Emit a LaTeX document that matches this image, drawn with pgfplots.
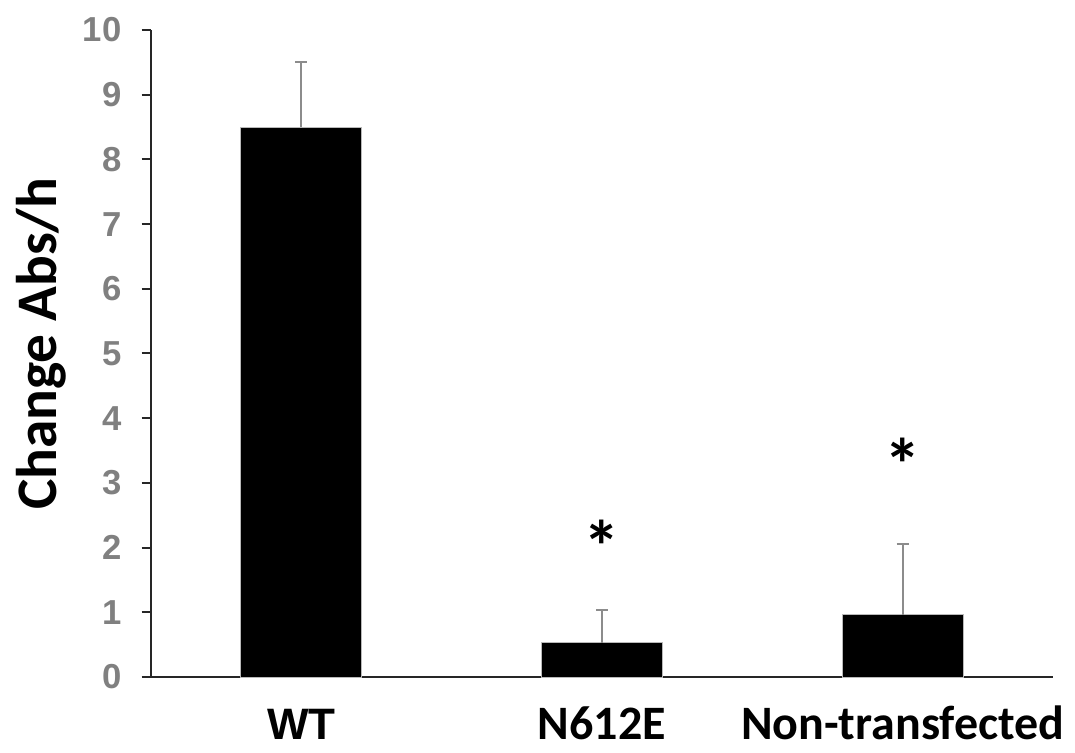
\documentclass[border=0pt]{standalone}
\usepackage{fontspec}
\setmainfont{Liberation Sans}
\newfontfamily\calibri{Carlito}
\usepackage{pgfplots}
\usetikzlibrary{calc}
\pgfplotsset{compat=1.18}
\definecolor{tickgray}{HTML}{808080}
\definecolor{errgray}{HTML}{8C8C8C}
\definecolor{axisdark}{HTML}{262626}
\begin{document}
\begin{tikzpicture}
\begin{axis}[
  scale only axis,
  width=676.5pt, height=485.25pt,
  xmin=-0.5, xmax=2.5, ymin=0, ymax=10,
  axis lines*=left,
  axis line style={line width=1.5pt, color=axisdark},
  ytick={0,1,...,10},
  xtick={0,1,2},
  xticklabels={{\fontsize{33}{33}\selectfont\bfseries WT},{\fontsize{36}{36}\selectfont\calibri\bfseries N612E},{\fontsize{36}{36}\selectfont\calibri\bfseries Non-transfected}},
  x tick style={draw=none},
  y tick style={line width=1.5pt, color=axisdark},
  tick align=outside,
  major tick length=7pt,
  ytick pos=left, xtick pos=bottom,
  /pgf/number format/assume math mode=true,
  yticklabel style={font=\fontsize{26}{26}\selectfont\bfseries, text=tickgray, anchor=east, inner sep=0pt, xshift=-15pt},
  xticklabel style={anchor=base, inner sep=0pt, yshift=-40pt},
  ylabel={\fontsize{43}{43}\selectfont\calibri\bfseries Change Abs/h},
  ylabel style={at={(axis description cs:-0.122,0.515)}, anchor=center},
  clip=false,
]
\addplot[ybar, bar width=90.75pt, bar shift=0pt, fill=black, draw=gray!55, line width=0.6pt,
  error bars/.cd, y dir=plus, y explicit,
  error bar style={line width=1.5pt, color=errgray},
  error mark options={line width=1.5pt, color=errgray, mark size=4.5pt, rotate=90}]
  coordinates {(0,8.5) +- (0,1.01) (1,0.53) +- (0,0.51) (2,0.96) +- (0,1.10)};
\addplot[draw=none, mark=none, nodes near coords={\fontsize{55}{55}\selectfont\calibri\bfseries *}, nodes near coords style={anchor=base, inner sep=0pt}]
  coordinates {(1,1.61) (2,2.88)};
\end{axis}
\useasboundingbox ($(current axis.south west)+(-113.25pt,-56.25pt)$) rectangle ($(current axis.north east)+(16.5pt,22.5pt)$);
\end{tikzpicture}
\end{document}
